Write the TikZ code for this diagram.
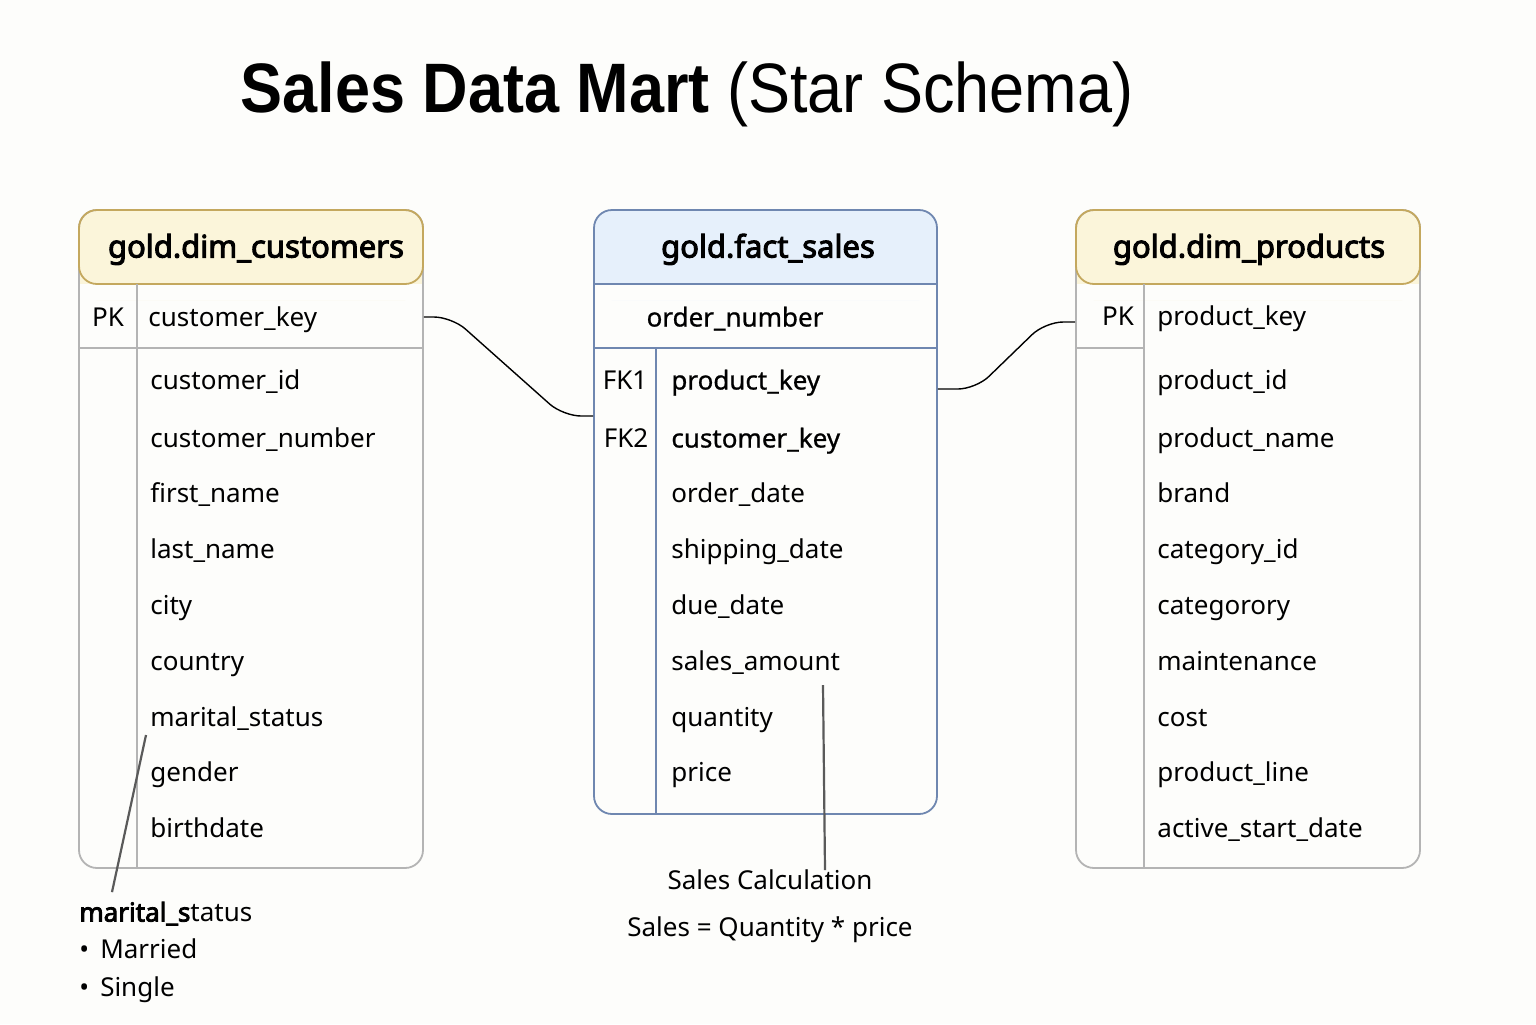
\documentclass[tikz,border=0pt]{standalone}
\usepackage{fontspec}
\setmainfont[BoldFont={Noto Sans}, BoldFeatures={FakeBold=3.2}]{Noto Sans}
\newfontfamily\titlefont[FakeStretch=0.9]{Liberation Sans}
\newfontfamily\medfont[FakeBold=0.8]{Noto Sans}
\definecolor{paper}{HTML}{FDFDFB}
\definecolor{hdryellow}{HTML}{FBF5DA}
\definecolor{goldline}{HTML}{C4A85E}
\definecolor{greyline}{HTML}{B4B4B4}
\definecolor{hdrblue}{HTML}{E6F0FB}
\definecolor{blueline}{HTML}{6F87B0}
\definecolor{noteline}{HTML}{5A5A5A}
\tikzset{
  rowtxt/.style={anchor=west, inner sep=0pt, font=\fontsize{13}{15}\selectfont, text height=11.5pt, text depth=2pt},
  keytxt/.style={rowtxt, anchor=center},
  medtxt/.style={font=\medfont\fontsize{13}{15}\selectfont},
  hdrtxt/.style={inner sep=0pt, font=\bfseries\fontsize{15.5}{18}\selectfont, text height=12.5pt, text depth=2pt},
  frame/.style={rounded corners=9pt, line width=0.9pt},
  link/.style={draw=black, line width=0.7pt, rounded corners=9pt},
  note/.style={draw=noteline, line width=1.1pt}
}
\begin{document}
\begin{tikzpicture}[x=0.5pt, y=-0.5pt]
  \fill[paper] (0,0) rectangle (1536,1024);
  \useasboundingbox (0,0) rectangle (1536,1024);
  % title
  \node[inner sep=0pt, font=\titlefont\fontsize{35}{40}\selectfont] (title) at (687,94)
    {{\bfseries Sales Data Mart} (Star Schema)};

  % dim customers
  \fill[hdryellow, rounded corners=9pt] (79,210) rectangle (423,300);
  \fill[paper] (79,284) rectangle (423,300);
  \node[frame, draw=greyline, minimum width=172pt, minimum height=329pt] (cust) at (251,539) {};
  \draw[frame, draw=goldline] (79,284) -- (79,210) -- (423,210) -- (423,284) -- cycle;
  \draw[greyline, line width=0.9pt] (79,348) -- (423,348) (137,284) -- (137,868);
  \node[hdrtxt] (custh) at (256,247) {gold.dim\_customers};
  \node[keytxt] (custpk) at (108,317) {PK};
  \node[rowtxt] (ck) at (148,317) {customer\_key};
  \foreach \y/\t [count=\i] in {380/customer\_id, 438/customer\_number, 493/first\_name,
      549/last\_name, 605/city, 661/country, 717/marital\_status, 772/gender, 828/birthdate}
    \node[rowtxt] (cst\i) at (150,\y) {\t};

  % fact sales
  \fill[hdrblue, rounded corners=9pt] (594,210) rectangle (937,300);
  \fill[paper] (594,284) rectangle (937,300);
  \node[frame, draw=blueline, minimum width=171.5pt, minimum height=302pt] (fact) at (765.5,512) {};
  \draw[blueline, line width=0.9pt] (594,284) -- (937,284) (594,348) -- (937,348) (656,348) -- (656,814);
  \node[hdrtxt] (facth) at (768,247) {gold.fact\_sales};
  \node[keytxt, medtxt] (ordno) at (735,317) {order\_number};
  \node[keytxt] (fk1) at (625,380) {FK1};
  \node[keytxt] (fk2) at (626,438) {FK2};
  \node[rowtxt, medtxt] (fpk) at (671,380) {product\_key};
  \node[rowtxt, medtxt] (fck) at (671,438) {customer\_key};
  \foreach \y/\t [count=\i] in {493/order\_date, 549/shipping\_date, 605/due\_date,
      661/sales\_amount, 717/quantity, 772/price}
    \node[rowtxt] (fct\i) at (671,\y) {\t};

  % dim products
  \fill[hdryellow, rounded corners=9pt] (1076,210) rectangle (1420,300);
  \fill[paper] (1076,284) rectangle (1420,300);
  \node[frame, draw=greyline, minimum width=172pt, minimum height=329pt] (prod) at (1248,539) {};
  \draw[frame, draw=goldline] (1076,284) -- (1076,210) -- (1420,210) -- (1420,284) -- cycle;
  \draw[greyline, line width=0.9pt] (1076,348) -- (1144,348) (1144,284) -- (1144,868);
  \node[hdrtxt] (prodh) at (1249,247) {gold.dim\_products};
  \node[keytxt] (prodpk) at (1118,316) {PK};
  \node[rowtxt] (pk) at (1157,316) {product\_key};
  \foreach \y/\t [count=\i] in {380/product\_id, 438/product\_name, 493/brand,
      549/category\_id, 605/categorory, 661/maintenance, 717/cost, 772/product\_line,
      828/active\_start\_date}
    \node[rowtxt] (prd\i) at (1157,\y) {\t};

  % relationships
  \draw[link] (cust.east |- ck) -- ++(28,0) -- ([xshift=-15pt, yshift=11pt]fact.west |- fck)
    -- ([yshift=11pt]fact.west |- fck);
  \draw[link] ([yshift=-4.5pt]fact.east |- fpk) -- ++(38,0) -- ([xshift=-15pt, yshift=-3pt]prod.west |- pk)
    -- ([yshift=-3pt]prod.west |- pk);

  % notes
  \node[keytxt] (calc) at (770,880) {Sales Calculation};
  \node[keytxt] (calcf) at (770,927) {Sales = Quantity * price};
  \coordinate (sa-tip) at (823,685);
  \draw[note] (sa-tip) -- ([xshift=1pt, yshift=-2pt]calc.north -| sa-tip);
  \node[rowtxt] (msnote) at (79,912) {{\bfseries marital\_s}tatus};
  \node[rowtxt] (msmar) at (79,949) {•\, Married};
  \node[rowtxt] (mssgl) at (79,987) {•\, Single};
  \coordinate (ms-tip) at (146,735);
  \draw[note] (ms-tip) -- ([xshift=16.5pt, yshift=3pt]msnote.north west);
\end{tikzpicture}
\end{document}
